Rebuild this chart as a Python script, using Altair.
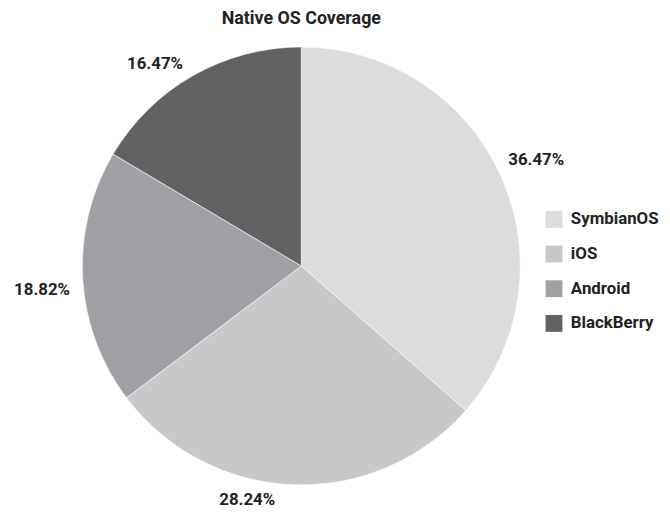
import altair as alt
import pandas as pd

categories = ["SymbianOS", "iOS", "Android", "BlackBerry"]
shares = [36.47, 28.24, 18.82, 16.47]
label_texts = ["36.47%", "28.24%", "18.82%", "16.47%"]
colors = ["#dcdcde", "#c8c8ca", "#a0a1a4", "#626265"]

df = pd.DataFrame({
    "os": categories,
    "share": shares,
    "label": label_texts,
    "order": list(range(len(categories))),
})

FONT = "Roboto"
W, H = 592, 452

pie = alt.Chart(df).mark_arc(outerRadius=221, stroke="white", strokeWidth=0.6).encode(
    theta=alt.Theta("share:Q", stack=True),
    order=alt.Order("order:Q"),
    color=alt.Color(
        "os:N",
        scale=alt.Scale(domain=categories, range=colors),
        sort=categories,
        legend=alt.Legend(
            title=None,
            orient="none",
            legendX=542,
            legendY=170,
            symbolType="square",
            symbolSize=290,
            symbolStrokeWidth=0,
            labelFont=FONT,
            labelFontWeight="bold",
            labelFontSize=17,
            labelColor="#222222",
            labelOffset=8,
            rowPadding=17,
        ),
    ),
)

# label base: mid-angle of each slice computed from the shares
label_base = (
    alt.Chart(df)
    .transform_joinaggregate(total="sum(share)")
    .transform_window(cum="sum(share)", sort=[alt.SortField("order")], frame=[None, 0])
    .transform_calculate(mid="(datum.cum - datum.share / 2) / datum.total")
)

# per-label nudges (styling only)
nudges = {
    "SymbianOS": (2, 0),
    "iOS": (-45, -22),
    "Android": (-4, 10),
    "BlackBerry": (-20, 20),
}

label_layers = []
for cat in categories:
    dx, dy = nudges[cat]
    label_layers.append(
        label_base.transform_filter(alt.datum.os == cat)
        .mark_text(
            radius=258,
            font=FONT,
            fontWeight="bold",
            fontSize=17,
            color="#222222",
            dx=dx,
            dy=dy,
        )
        .encode(
            theta=alt.Theta("mid:Q", stack=None, scale=alt.Scale(domain=[0, 1])),
            text=alt.Text("label:N"),
        )
    )

chart = (
    alt.layer(pie, *label_layers)
    .resolve_scale(theta="independent")
    .properties(
        width=W,
        height=H,
        title=alt.Title(
            "Native OS Coverage",
            font=FONT,
            fontWeight="bold",
            fontSize=18,
            color="#222222",
            anchor="middle",
            frame="group",
            offset=14,
        ),
        autosize=alt.AutoSizeParams(type="none"),
        padding={"left": 0, "top": 32, "right": 68, "bottom": 16},
    )
    .configure_view(stroke=None)
)

chart.save("out.html", embed_options={"renderer": "svg", "actions": False})
